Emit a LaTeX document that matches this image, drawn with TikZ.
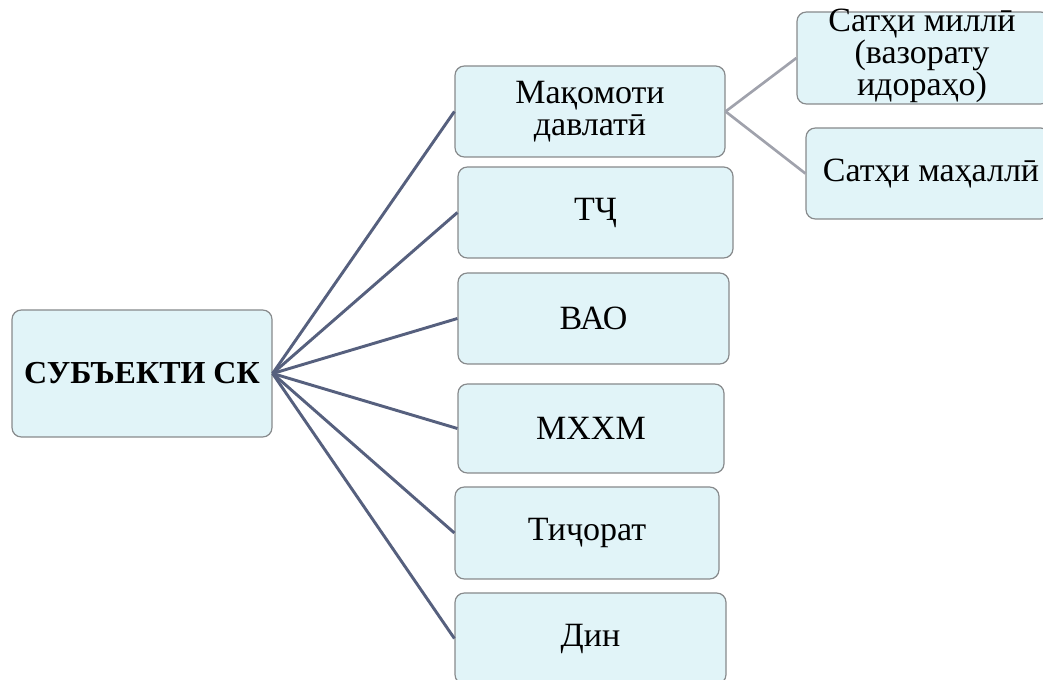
\documentclass[tikz,border=0pt]{standalone}
\usepackage{fontspec}
\setmainfont{Liberation Serif}
\definecolor{boxfill}{RGB}{225,244,248}
\definecolor{boxdraw}{RGB}{135,138,140}
\definecolor{mainline}{RGB}{86,96,126}
\definecolor{subline}{RGB}{160,162,172}
\begin{document}
\begin{tikzpicture}[x=0.75pt,y=-0.75pt,
  box/.style={draw=boxdraw,fill=boxfill,line width=0.9pt,rounded corners=7pt,inner sep=2pt,align=center,
    font=\fontsize{25.5}{24}\selectfont},
  mainconn/.style={draw=mainline,line width=2.2pt},
  subconn/.style={draw=subline,line width=2pt}]
\useasboundingbox (0,0) rectangle (1043,680);
\clip (0,0) rectangle (1043,680);
\node[box,minimum width=195pt,minimum height=95.25pt,font=\fontsize{24}{24}\selectfont\bfseries] (root) at (142,373.5) {СУБЪЕКТИ СК};
\node[box,minimum width=202.5pt,minimum height=68.25pt] (mak) at (590,111.5) {Мақомоти\\давлатӣ};
\node[box,minimum width=206.25pt,minimum height=68.25pt] (tj) at (595.5,212.5) {ТҶ};
\node[box,minimum width=203.25pt,minimum height=68.25pt] (vao) at (593.5,318.5) {ВАО};
\node[box,minimum width=199.5pt,minimum height=66.75pt] (mhhm) at (591,428.5) {МХХМ};
\node[box,minimum width=198pt,minimum height=69pt] (tij) at (587,533) {Тиҷорат};
\node[box,minimum width=203.25pt,minimum height=68.25pt] (din) at (590.5,638.5) {Дин};
\node[box,minimum width=189.75pt,minimum height=69pt] (milli) at (923.5,58) {};
\node[font=\fontsize{25.5}{24}\selectfont,align=center,inner sep=0pt] (millit) at (922,56) {Сатҳи миллӣ\\(вазорату\\идораҳо)};
\node[box,minimum width=183pt,minimum height=68.25pt] (mahalli) at (928,173.5) {};
\node[font=\fontsize{25.5}{24}\selectfont,inner sep=0pt] (mahallit) at (931,173.5) {Сатҳи маҳаллӣ};
\foreach \t in {mak,tj,vao,mhhm,tij,din}
  \draw[mainconn] (root.east) -- (\t.west);
\draw[subconn] (mak.east) -- (milli.west);
\draw[subconn] (mak.east) -- (mahalli.west);
\end{tikzpicture}
\end{document}
